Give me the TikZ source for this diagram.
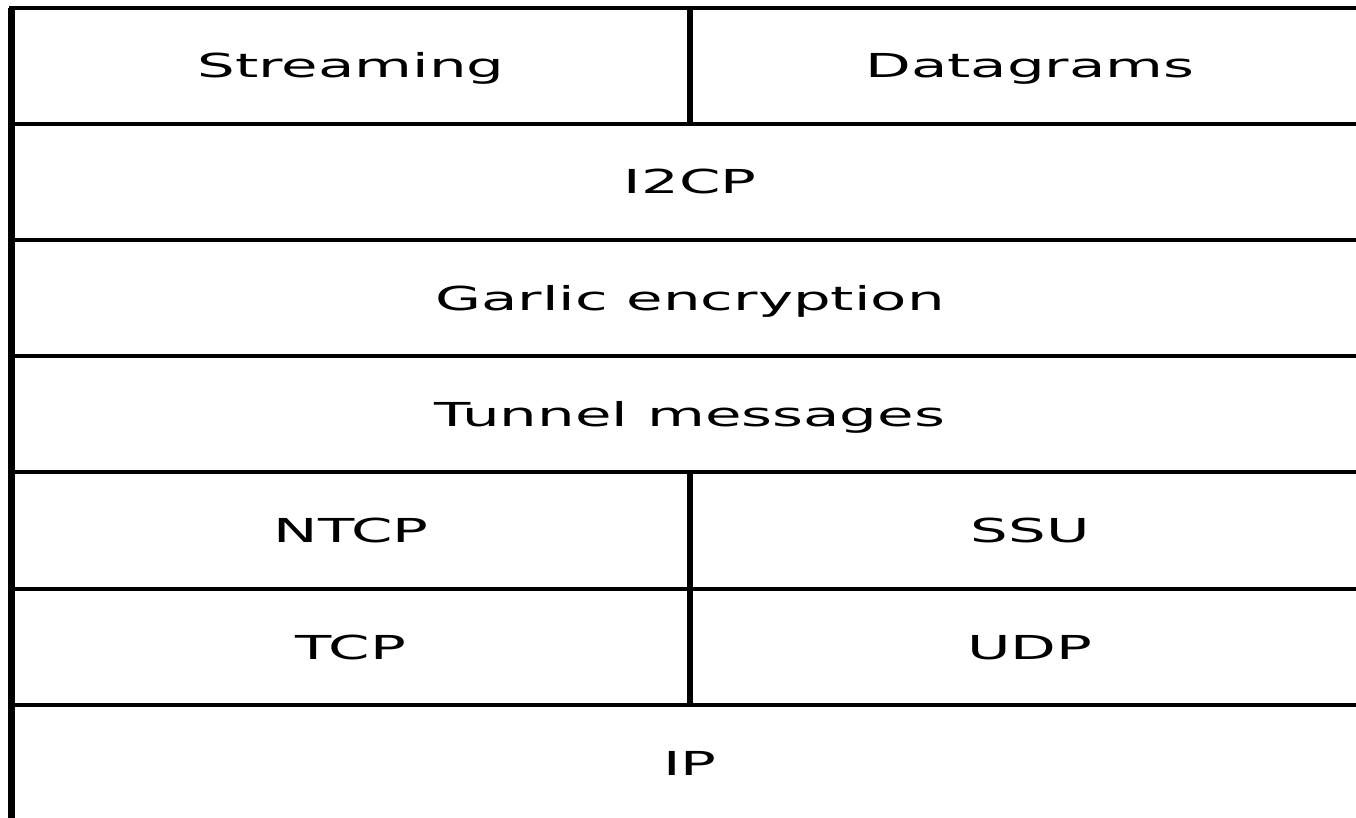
\documentclass[tikz,border=0pt]{standalone}
\usepackage{fontspec}
\setmainfont{DejaVu Sans}
\begin{document}
\begin{tikzpicture}[x=1pt,y=-1pt,
  hline/.style={line width=4pt,line cap=butt},
  vline/.style={line width=6.5pt,line cap=butt},
  lbl/.style={anchor=base,inner sep=0pt,font=\fontsize{33}{40}\selectfont},
]
\useasboundingbox (0,0) rectangle (1356,818);
\fill[white] (0,0) rectangle (1356,818);
\begin{scope}
\clip (0,0) rectangle (1356,818);
% coordinates of the grid
\coordinate (tl) at (11.5,8);
\coordinate (tr) at (1400,8);
\coordinate (bl) at (11.5,830);
% horizontal lines
\foreach \y in {8,124,240,356,472,589,705}
  \draw[hline] (9,\y) -- (1400,\y);
% left border
\draw[vline] (tl) -- (bl);
% vertical divider
\coordinate (d1) at (690,8);
\coordinate (d2) at (690,124);
\coordinate (d3) at (690,472);
\coordinate (d4) at (690,705);
\draw[vline] (d1) -- (d2);
\draw[vline] (d3) -- (d4);
\end{scope}
% labels
\node[lbl] (streaming) at (351,78) {\scalebox{1.8}[1]{Streaming}};
\node[lbl] (datagrams) at (1030,78) {\scalebox{1.8}[1]{Datagrams}};
\node[lbl] (i2cp) at (690,194) {\scalebox{1.8}[1]{I2CP}};
\node[lbl] (garlic) at (690,310) {\scalebox{1.8}[1]{Garlic encryption}};
\node[lbl] (tunnel) at (690,426) {\scalebox{1.8}[1]{Tunnel messages}};
\node[lbl] (ntcp) at (351,542.5) {\scalebox{1.8}[1]{NTCP}};
\node[lbl] (ssu) at (1030,542.5) {\scalebox{1.8}[1]{SSU}};
\node[lbl] (tcp) at (351,659) {\scalebox{1.8}[1]{TCP}};
\node[lbl] (udp) at (1030,659) {\scalebox{1.8}[1]{UDP}};
\node[lbl] (ip) at (690,775) {\scalebox{1.8}[1]{IP}};
\end{tikzpicture}
\end{document}
